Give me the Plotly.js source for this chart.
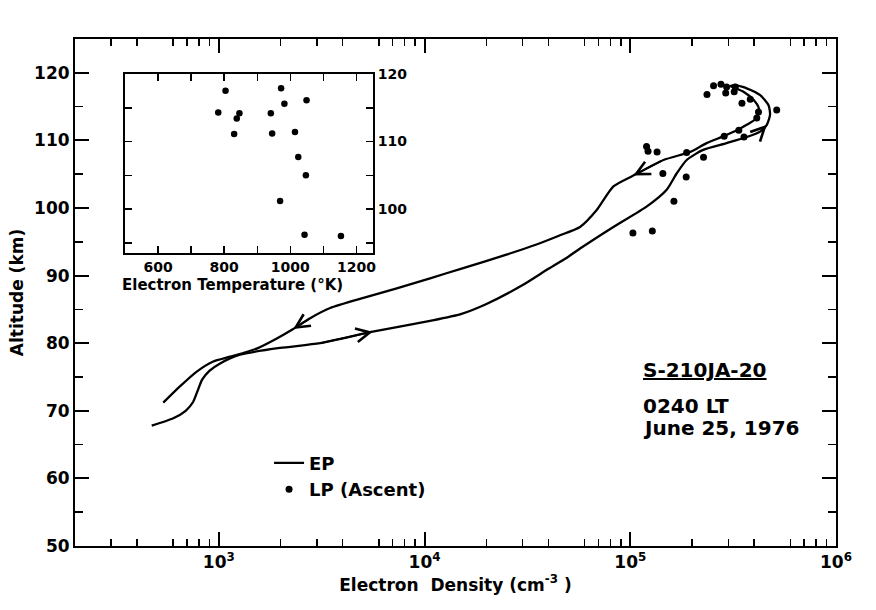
<!DOCTYPE html>
<html>
<head>
<meta charset="utf-8">
<script src="https://cdn.plot.ly/plotly-3.0.1.min.js"></script>
<style>html,body{margin:0;padding:0;background:#fff;}#chart{width:876px;height:610px;}</style>
</head>
<body>
<div id="chart"></div>
<script>
// ---- EP (electron probe) profile, ascent leg ----
const epAscentX = [472, 601, 690, 750, 790, 830, 900, 1015, 1268, 1985, 3107, 5600, 10640, 15000, 20000, 30000, 40000, 50000, 57000, 82800, 120000, 150300, 168000, 188000, 226000, 294000, 368000, 428000, 461000, 478000, 470000, 428000, 368000, 324000];
const epAscentY = [67.8, 68.9, 70.0, 71.3, 73.0, 74.6, 75.9, 77.0, 78.3, 79.3, 80.0, 81.7, 83.3, 84.3, 85.8, 88.6, 91.0, 92.8, 94.0, 97.2, 100.2, 102.7, 105.1, 107.1, 108.6, 109.6, 110.5, 111.3, 112.3, 113.8, 115.2, 116.7, 117.7, 118.2];
// ---- EP profile, descent leg ----
const epDescentX = [324000, 306000, 355000, 397000, 422000, 412000, 368000, 330000, 283000, 235000, 196000, 145000, 103500, 82800, 68700, 57000, 45000, 35000, 25000, 15000, 10640, 7330, 5047, 3477, 2780, 2300, 1914, 1528, 1133, 940, 781, 647, 537];
const epDescentY = [118.2, 118.05, 117.2, 116.0, 114.7, 113.3, 112.3, 111.5, 110.6, 109.6, 108.3, 107.1, 104.8, 103.2, 99.7, 97.2, 95.9, 94.6, 93.1, 91.0, 89.6, 88.1, 86.7, 85.2, 83.7, 82.1, 80.7, 79.2, 78.0, 77.3, 75.8, 73.6, 71.2];
// ---- LP (Langmuir probe, ascent) electron density ----
const lpDensity = [254000, 276000, 294000, 324000, 236000, 291000, 320000, 349000, 383000, 420000, 412000, 515000, 286000, 337000, 357000, 188000, 227000, 120000, 122000, 135000, 144000, 187000, 163000, 103000, 128000];
const lpAltitude = [118.1, 118.3, 117.9, 117.9, 116.8, 117.0, 117.2, 115.5, 116.1, 114.2, 113.3, 114.5, 110.6, 111.5, 110.5, 108.2, 107.5, 109.1, 108.4, 108.3, 105.1, 104.6, 101.0, 96.3, 96.6];
// ---- Inset: electron temperature ----
const teKelvin = [804, 972, 782, 846, 838, 982, 1049, 941, 830, 945, 1014, 1024, 1047, 969, 1043, 1153];
const teAltitude = [117.5, 117.9, 114.3, 114.2, 113.4, 115.6, 116.1, 114.2, 111.1, 111.2, 111.4, 107.7, 105.0, 101.2, 96.2, 96.0];

// direction arrows: [leg, density value of the arrow tip on that leg]
const arrowTips = [["asc", 5600], ["asc", 461000], ["desc", 103500], ["desc", 2300]];

// tick labels
const decades = [1e3, 1e4, 1e5, 1e6];
const decadeLabels = ["10<sup>3</sup>", "10<sup>4</sup>", "10<sup>5</sup>", "10<sup>6</sup>"];
const altTicks = [50, 60, 70, 80, 90, 100, 110, 120];
const altRightTicks = [60, 70, 80, 90, 100, 110, 120];
const tempTicks = [600, 700, 800, 900, 1000, 1100, 1200];
const tempLabels = ["600", "", "800", "", "1000", "", "1200"];
const insetAltTicks = [95, 100, 105, 110, 115, 120];
const insetAltLabels = ["", "100", "", "110", "", "120"];

const minorVals = [], fiveVals = [];
[2, 3, 4, 5].forEach(function (e) {
  [2, 3, 4, 6, 7, 8, 9].forEach(function (m) { minorVals.push(m * Math.pow(10, e)); });
  fiveVals.push(5 * Math.pow(10, e));
});
const minorAlt = [55, 65, 75, 85, 95, 105, 115];

const FONT = "DejaVu Sans, sans-serif";
const lx = Math.log10;
const xr = [lx(200), 6];

const traces = [
  {x: epAscentX, y: epAscentY, type: "scatter", mode: "lines", name: "EP",
   line: {color: "black", width: 2.3, shape: "spline", smoothing: 0.6}, xaxis: "x", yaxis: "y", showlegend: true},
  {x: epDescentX, y: epDescentY, type: "scatter", mode: "lines", name: "EP descent",
   line: {color: "black", width: 2.3, shape: "spline", smoothing: 0.6}, xaxis: "x", yaxis: "y", showlegend: false},
  {x: lpDensity, y: lpAltitude, type: "scatter", mode: "markers", name: "LP (Ascent)",
   marker: {color: "black", size: 7}, xaxis: "x", yaxis: "y", showlegend: true},
  {x: teKelvin, y: teAltitude, type: "scatter", mode: "markers", name: "Te",
   marker: {color: "black", size: 6.5}, xaxis: "x4", yaxis: "y3", showlegend: false}
];

const annotations = [];
arrowTips.forEach(function (s) {
  const X = s[0] === "asc" ? epAscentX : epDescentX;
  const Y = s[0] === "asc" ? epAscentY : epDescentY;
  const i = X.indexOf(s[1]);
  annotations.push({x: lx(X[i]), y: Y[i], ax: lx(X[i - 1]), ay: Y[i - 1], xref: "x", yref: "y", axref: "x", ayref: "y",
    text: "", showarrow: true, arrowhead: 5, arrowsize: 1.5, arrowwidth: 1.8, arrowcolor: "black", standoff: 0});
});
const txtFont = {family: FONT, size: 20, color: "black", weight: "bold"};
annotations.push({xref: "paper", yref: "paper", x: 0.744, y: 0.347, xanchor: "left", yanchor: "middle", text: "<u>S-210JA-20</u>", showarrow: false, font: txtFont});
annotations.push({xref: "paper", yref: "paper", x: 0.744, y: 0.277, xanchor: "left", yanchor: "middle", text: "0240 LT", showarrow: false, font: txtFont});
annotations.push({xref: "paper", yref: "paper", x: 0.744, y: 0.232, xanchor: "left", yanchor: "middle", text: "June 25, 1976", showarrow: false, font: txtFont});
annotations.push({xref: "paper", yref: "paper", x: 0.2076, y: 0.515, xanchor: "center", yanchor: "middle", text: "Electron Temperature (°K)", showarrow: false,
  font: {family: FONT, size: 15, color: "black", weight: "bold"}});

const tickFont = {family: FONT, size: 17, color: "black", weight: "bold"};
const insetFont = {family: FONT, size: 14, color: "black", weight: "bold"};
const layout = {
  width: 876, height: 610,
  margin: {l: 75, r: 40, t: 39, b: 64, pad: 0},
  paper_bgcolor: "white", plot_bgcolor: "white",
  font: {family: FONT, color: "black"},
  showlegend: true,
  legend: {x: 0.255, y: 0.2, xanchor: "left", yanchor: "top", bgcolor: "rgba(0,0,0,0)", font: {family: FONT, size: 18, color: "black", weight: "bold"}, tracegroupgap: 4},
  xaxis: {type: "log", range: xr, domain: [0, 1], anchor: "y", showline: true, linewidth: 2, linecolor: "black", mirror: "ticks",
    ticks: "inside", ticklen: 14, tickwidth: 2, tickcolor: "black", tickmode: "array", tickvals: decades, ticktext: decadeLabels,
    showgrid: false, zeroline: false, tickfont: tickFont,
    minor: {tickmode: "array", tickvals: minorVals, ticks: "inside", ticklen: 7, tickwidth: 1.5, tickcolor: "black", showgrid: false},
    title: {text: "Electron  Density (cm<sup>-3</sup> )", font: {family: FONT, size: 17, color: "black", weight: "bold"}, standoff: 4}},
  xaxis2: {type: "log", range: xr, overlaying: "x", side: "top", anchor: "y", showline: false, ticks: "",
    tickmode: "array", tickvals: decades, ticktext: decadeLabels, showgrid: false, zeroline: false, tickfont: tickFont},
  xaxis3: {type: "log", range: xr, overlaying: "x", side: "bottom", anchor: "y", showline: true, linewidth: 2, linecolor: "black", mirror: "ticks",
    ticks: "inside", ticklen: 10, tickwidth: 1.5, tickcolor: "black", tickmode: "array", tickvals: fiveVals, showticklabels: false, showgrid: false, zeroline: false},
  yaxis: {range: [50, 125], domain: [0, 1], anchor: "x", showline: true, linewidth: 2, linecolor: "black", mirror: "ticks",
    ticks: "inside", ticklen: 14, tickwidth: 2, tickcolor: "black", tickmode: "array", tickvals: altTicks,
    showgrid: false, zeroline: false, tickfont: tickFont,
    minor: {tickmode: "array", tickvals: minorAlt, ticks: "inside", ticklen: 8, tickwidth: 1.5, tickcolor: "black", showgrid: false},
    title: {text: "Altitude (km)", font: {family: FONT, size: 17, color: "black", weight: "bold"}, standoff: 6}},
  yaxis2: {range: [50, 125], overlaying: "y", side: "right", anchor: "x", showline: false, ticks: "",
    tickmode: "array", tickvals: altRightTicks, showgrid: false, zeroline: false, tickfont: tickFont},
  xaxis4: {range: [500, 1250], domain: [0.0657, 0.3916], anchor: "y3", showline: true, linewidth: 2, linecolor: "black", mirror: "ticks",
    ticks: "inside", ticklen: 7, tickwidth: 1.5, tickcolor: "black", tickmode: "array", tickvals: tempTicks, ticktext: tempLabels,
    showgrid: false, zeroline: false, tickfont: insetFont},
  yaxis3: {range: [93.5, 120], domain: [0.578, 0.931], anchor: "x4", side: "right", showline: true, linewidth: 2, linecolor: "black", mirror: "ticks",
    ticks: "inside", ticklen: 7, tickwidth: 1.5, tickcolor: "black", tickmode: "array", tickvals: insetAltTicks, ticktext: insetAltLabels,
    showgrid: false, zeroline: false, tickfont: insetFont},
  annotations: annotations
};

Plotly.newPlot("chart", traces, layout, {displayModeBar: false, staticPlot: true});
</script>
</body>
</html>
